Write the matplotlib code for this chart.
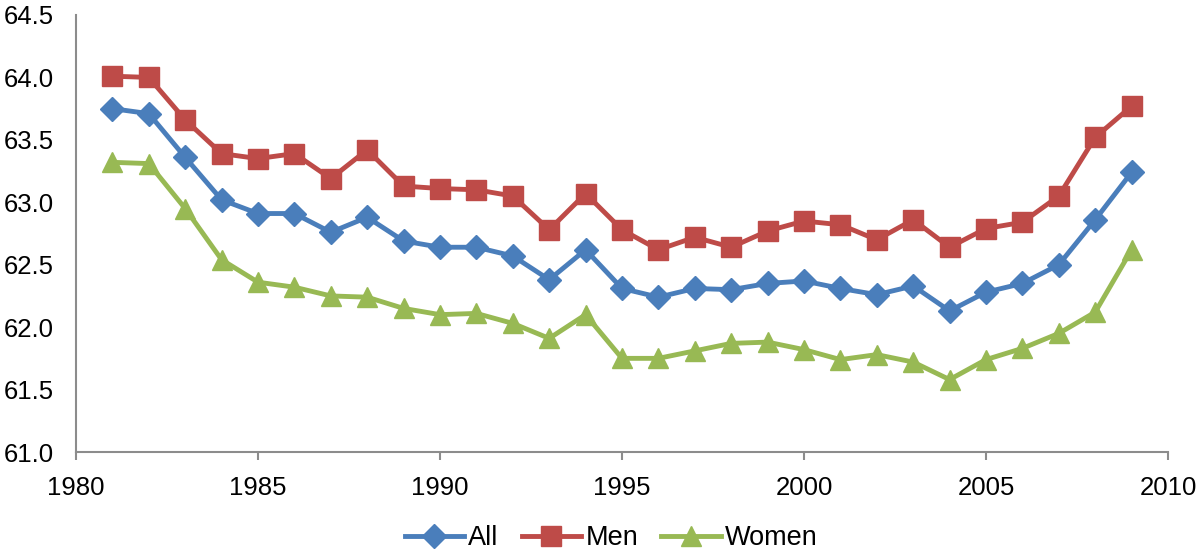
import matplotlib.pyplot as plt

plt.rcParams['font.family'] = ['Liberation Sans', 'DejaVu Sans']

years = list(range(1981, 2010))
all_vals = [63.75, 63.71, 63.36, 63.02, 62.91, 62.91, 62.76, 62.88, 62.69,
            62.64, 62.64, 62.57, 62.38, 62.62, 62.31, 62.24, 62.31, 62.30,
            62.35, 62.37, 62.31, 62.26, 62.33, 62.13, 62.28, 62.35, 62.50,
            62.86, 63.24]
men_vals = [64.01, 64.00, 63.66, 63.39, 63.35, 63.39, 63.19, 63.42, 63.13,
            63.11, 63.10, 63.05, 62.78, 63.07, 62.78, 62.62, 62.72, 62.64,
            62.77, 62.85, 62.82, 62.70, 62.86, 62.64, 62.79, 62.84, 63.05,
            63.52, 63.77]
women_vals = [63.32, 63.31, 62.95, 62.54, 62.36, 62.32, 62.25, 62.24, 62.15,
              62.10, 62.11, 62.03, 61.91, 62.10, 61.75, 61.75, 61.81, 61.87,
              61.88, 61.82, 61.74, 61.78, 61.72, 61.58, 61.74, 61.83, 61.95,
              62.12, 62.62]

fig = plt.figure(figsize=(12, 5.54), dpi=100)
ax = fig.add_axes([76 / 1200, 1 - 452 / 554, (1168 - 76) / 1200, (452 - 15) / 554])

ax.plot(years, all_vals, color='#4A7EBB', lw=3.5, marker='D', ms=12,
        label='All')
ax.plot(years, men_vals, color='#BE4B48', lw=3.5, marker='s', ms=14,
        label='Men')
ax.plot(years, women_vals, color='#98B954', lw=3.5, marker='^', ms=14,
        label='Women')

ax.set_xlim(1980, 2010)
ax.set_ylim(61.0, 64.5)
ax.set_xticks(range(1980, 2011, 5))
ax.set_yticks([61.0 + 0.5 * i for i in range(8)])
ax.set_yticklabels([f'{61.0 + 0.5 * i:.1f}' for i in range(8)])

for s in ['top', 'right']:
    ax.spines[s].set_visible(False)
for s in ['left', 'bottom']:
    ax.spines[s].set_color('#8c8c8c')
    ax.spines[s].set_linewidth(1.5)
ax.tick_params(axis='y', length=0, labelsize=18.5, pad=16)
ax.tick_params(axis='x', length=6, width=1.5, color='#8c8c8c',
               direction='out', labelsize=18.5, pad=11)

ax.legend(loc='center', bbox_to_anchor=(0.49, -0.197), ncol=3, frameon=False,
          fontsize=19.5, handlelength=2.2, columnspacing=0.85,
          handletextpad=0.15)

fig.savefig('out.png', dpi=100)
